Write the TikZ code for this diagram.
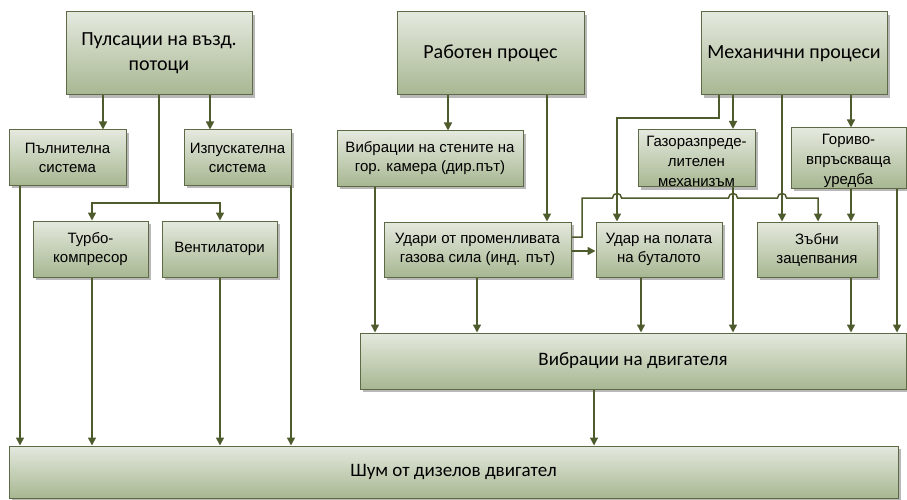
\documentclass[tikz,border=0pt]{standalone}
\usepackage{fontspec}
\setmainfont{Carlito}
\newfontfamily\smallfont{Liberation Sans}
\usetikzlibrary{arrows.meta,shadows,calc}
\definecolor{boxtop}{HTML}{E4E9DE}
\definecolor{boxbot}{HTML}{A8B792}
\definecolor{boxline}{HTML}{5E6A46}
\definecolor{arrcol}{HTML}{4E5B2C}
\begin{document}
\begin{tikzpicture}[x=1pt,y=-1pt,
  box/.style={draw=boxline, line width=1pt, top color=boxtop, bottom color=boxbot,
    inner sep=0pt, align=center,
    drop shadow={shadow xshift=3pt, shadow yshift=-3pt, fill=black!28, opacity=1}},
  big/.style={box, font=\fontsize{20}{25}\selectfont},
  mid/.style={box, font=\fontsize{19}{23}\selectfont},
  sm/.style={box, font=\smallfont\fontsize{15}{19}\selectfont},
  sm3/.style={box, font=\smallfont\fontsize{15}{20}\selectfont},
  arr/.style={draw=arrcol, line width=1.5pt, -{Triangle[length=8pt,width=8pt]}},
  ln/.style={draw=arrcol, line width=1.5pt}]
\useasboundingbox (0,0) rectangle (907,500);

% top level
\node[big, minimum width=186, minimum height=83] (pul) at (159,53.5) {Пулсации на възд.\\потоци};
\node[big, minimum width=187, minimum height=83] (rab) at (490.5,53.5) {Работен процес};
\node[big, minimum width=186, minimum height=83] (mech) at (794,53.5) {Механични процеси};

% second level
\node[sm, minimum width=117, minimum height=55] (fill) at (67.5,157.5) {Пълнителна\\система};
\node[sm, minimum width=107, minimum height=55] (exh) at (237.5,157.5) {Изпускателна\\система};
\node[sm, minimum width=186, minimum height=55] (wall) at (430,158.5) {Вибрации на стените на\\гор. камера (дир.път)};
\node[sm3, minimum width=117, minimum height=56] (gas) at (696.5,158) {\rule{0pt}{17pt}Газоразпреде-\\лителен\\механизъм};
\node[sm3, minimum width=115, minimum height=56] (fuel) at (848.5,158) {\rule{0pt}{17pt}Гориво-\\впръскваща\\уредба};

% third level
\node[sm, minimum width=115, minimum height=56] (turbo) at (90.5,249) {Турбо-\\компресор};
\node[sm, minimum width=115, minimum height=56] (fan) at (219.5,249) {Вентилатори};
\node[sm, minimum width=187, minimum height=55] (udari) at (477.5,249.5) {Удари от променливата\\газова сила (инд. път)};
\node[sm, minimum width=126, minimum height=55] (piston) at (659,249.5) {Удар на полата\\на буталото};
\node[sm, minimum width=120, minimum height=55] (gear) at (817,249.5) {Зъбни\\зацепвания};

% bottom
\node[mid, minimum width=546, minimum height=56] (vib) at (633,361) {Вибрации на двигателя};
\node[mid, minimum width=889, minimum height=52] (noise) at (453.5,472) {Шум от дизелов двигател};

% helper columns / rows
\foreach \c in {20,92,103,159,210,220,291,375,448,477,547,582,594,617,641,719,733,782,818,851,897}
  {\coordinate (c\c) at (\c,0);}
\foreach \r in {118,198,203,237,251}
  {\coordinate (r\r) at (0,\r);}

% Пулсации
\draw[arr] (pul.south -| c103) -- (fill.north -| c103);
\draw[arr] (pul.south -| c210) -- (exh.north -| c210);
\draw[arr] (pul.south) |- (c92 |- r203) -- (turbo.north -| c92);
\draw[arr] (pul.south) |- (c220 |- r203) -- (fan.north -| c220);
\draw[arr] (fill.south -| c20) -- (noise.north -| c20);
\draw[arr] (turbo.south -| c92) -- (noise.north -| c92);
\draw[arr] (fan.south -| c220) -- (noise.north -| c220);
\draw[arr] (exh.south -| c291) -- (noise.north -| c291);

% Работен процес
\draw[arr] (rab.south -| c448) -- (wall.north -| c448);
\draw[arr] (rab.south -| c547) -- (udari.north -| c547);
\draw[arr] (wall.south -| c375) -- (vib.north -| c375);
\draw[arr] (udari.south -| c477) -- (vib.north -| c477);
\draw[arr] (udari.east |- r251) -- (piston.west |- r251);

% Механични процеси
\draw[arr] (mech.south -| c719) |- (c617 |- r118) -- (piston.north -| c617);
\draw[arr] (mech.south -| c733) -- (gas.north -| c733);
\draw[arr] (mech.south -| c782) -- (gear.north -| c782);
\draw[arr] (mech.south -| c851) -- (fuel.north -| c851);
\draw[arr] (gas.south -| c733) -- (vib.north -| c733);
\draw[arr] (fuel.south -| c851) -- (gear.north -| c851);
\draw[arr] (fuel.south -| c897) -- (vib.north -| c897);
\draw[arr] (gear.south -| c851) -- (vib.north -| c851);
\draw[arr] (piston.south -| c641) -- (vib.north -| c641);

% Удари -> Зъбни with line hops
\draw[arr] (udari.east |- r237) -| (c582 |- r198)
  -- ([xshift=-4.5pt]c617 |- r198) .. controls +(0,-6) and +(0,-6) .. ([xshift=4.5pt]c617 |- r198)
  -- ([xshift=-4.5pt]c733 |- r198) .. controls +(0,-6) and +(0,-6) .. ([xshift=4.5pt]c733 |- r198)
  -- ([xshift=-4.5pt]c782 |- r198) .. controls +(0,-6) and +(0,-6) .. ([xshift=4.5pt]c782 |- r198)
  -- (c818 |- r198) -- (gear.north -| c818);

% Вибрации -> Шум
\draw[arr] (vib.south -| c594) -- (noise.north -| c594);
\end{tikzpicture}
\end{document}
